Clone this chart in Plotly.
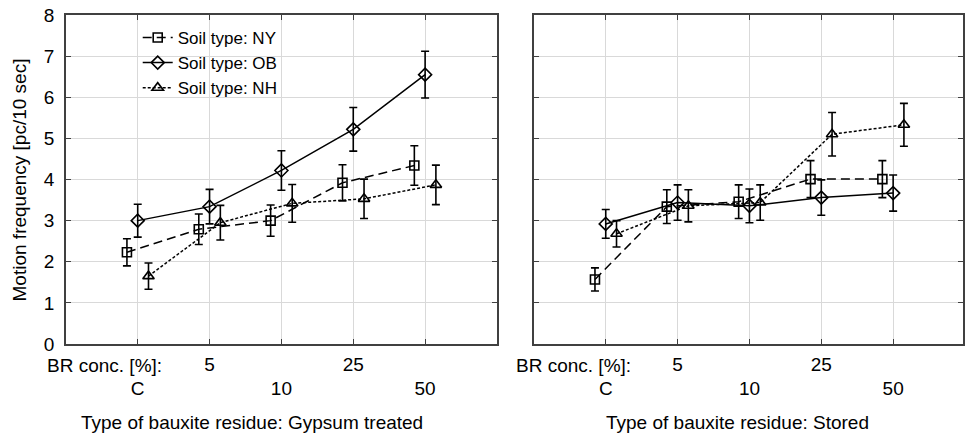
import plotly.graph_objects as go

categories = ["C", "5", "10", "25", "50"]
tick_text = ["<br>C", "5", "<br>10", "25", "<br>50"]
series_names = ["Soil type: NY", "Soil type: OB", "Soil type: NH"]

# Panel 1: Gypsum treated
gyp_ny = [2.23, 2.79, 3.00, 3.92, 4.34]
gyp_ny_err = [0.33, 0.37, 0.38, 0.44, 0.48]
gyp_ob = [3.00, 3.34, 4.22, 5.22, 6.55]
gyp_ob_err = [0.40, 0.42, 0.48, 0.53, 0.57]
gyp_nh = [1.65, 2.95, 3.42, 3.53, 3.87]
gyp_nh_err = [0.32, 0.42, 0.46, 0.48, 0.48]

# Panel 2: Stored
sto_ny = [1.57, 3.34, 3.46, 4.01, 4.01]
sto_ny_err = [0.28, 0.41, 0.41, 0.45, 0.45]
sto_ob = [2.92, 3.44, 3.36, 3.56, 3.67]
sto_ob_err = [0.35, 0.43, 0.41, 0.43, 0.44]
sto_nh = [2.68, 3.36, 3.44, 5.10, 5.33]
sto_nh_err = [0.32, 0.39, 0.43, 0.53, 0.52]

W, H = 965, 436
FONT = "Liberation Sans, Arial, sans-serif"
INK = "#000000"

styles = [
    dict(dash="9px,5px", symbol="square-open", size=9, offset=-0.15),
    dict(dash="solid", symbol="diamond-open", size=10, offset=0.0),
    dict(dash="3px,2px", symbol="triangle-up-open", size=10, offset=0.15),
]

fig = go.Figure()
pos = list(range(1, len(categories) + 1))

panels = [
    ("x", "y", [gyp_ny, gyp_ob, gyp_nh], [gyp_ny_err, gyp_ob_err, gyp_nh_err], True),
    ("x2", "y2", [sto_ny, sto_ob, sto_nh], [sto_ny_err, sto_ob_err, sto_nh_err], False),
]
for xa, ya, vals, errs, show in panels:
    for name, v, e, st in zip(series_names, vals, errs, styles):
        fig.add_trace(go.Scatter(
            x=[p + st["offset"] for p in pos], y=v,
            customdata=categories,
            mode="lines+markers", name=name, showlegend=show,
            xaxis=xa, yaxis=ya,
            line=dict(color=INK, width=1.5, dash=st["dash"]),
            marker=dict(symbol=st["symbol"], size=st["size"], color=INK,
                        line=dict(color=INK, width=1.6)),
            error_y=dict(type="data", array=e, visible=True, color=INK,
                         thickness=1.6, width=4),
        ))

left_dom = [66 / W, 498 / W]
right_dom = [535 / W, 1.0]
right_max = (W - 535) / 72.0

axis_common = dict(
    showline=True, linecolor="#404040", linewidth=1.5, mirror="allticks",
    ticks="inside", ticklen=5, tickcolor="#404040", tickwidth=1,
    showgrid=True, gridcolor="#d9d9d9", gridwidth=1, zeroline=False,
    tickfont=dict(family=FONT, size=19, color=INK),
)

fig.update_layout(
    width=W, height=H,
    margin=dict(l=0, r=0, t=15, b=92),
    paper_bgcolor="white", plot_bgcolor="white",
    font=dict(family=FONT, size=19, color=INK),
    xaxis=dict(domain=left_dom, range=[0, 6], tickvals=pos, ticktext=tick_text,
               anchor="y", ticklabelstandoff=2, **axis_common),
    xaxis2=dict(domain=right_dom, range=[0, right_max], tickvals=pos, ticktext=tick_text,
                anchor="y2", ticklabelstandoff=2, **axis_common),
    yaxis=dict(domain=[0, 1], range=[0, 8], dtick=1, anchor="x",
               ticklabelstandoff=6, **axis_common),
    yaxis2=dict(domain=[0, 1], range=[0, 8], dtick=1, anchor="x2",
                showticklabels=False, **axis_common),
    legend=dict(x=138 / W, y=0.985, xanchor="left", yanchor="top",
                bgcolor="rgba(0,0,0,0)", borderwidth=0,
                font=dict(family=FONT, size=17, color=INK),
                tracegroupgap=0, itemwidth=30),
    showlegend=True,
)

ann_font = dict(family=FONT, size=19, color=INK)
fig.add_annotation(text="Motion frequency [pc/10 sec]", textangle=-90,
                   xref="paper", yref="paper", x=20 / W, y=0.5,
                   xanchor="center", yanchor="middle", showarrow=False, font=ann_font)
for left_px, title, center_px in [(45, "Type of bauxite residue: Gypsum treated", 253),
                                  (515, "Type of bauxite residue: Stored", 739)]:
    fig.add_annotation(text="BR conc. [%]:", xref="paper", yref="paper",
                       x=left_px / W, y=(344 - 365) / 329, xanchor="left", yanchor="middle",
                       showarrow=False, font=ann_font)
    fig.add_annotation(text=title, xref="paper", yref="paper",
                       x=center_px / W, y=(344 - 422) / 329, xanchor="center", yanchor="middle",
                       showarrow=False, font=ann_font)

fig.write_html("out.html")
